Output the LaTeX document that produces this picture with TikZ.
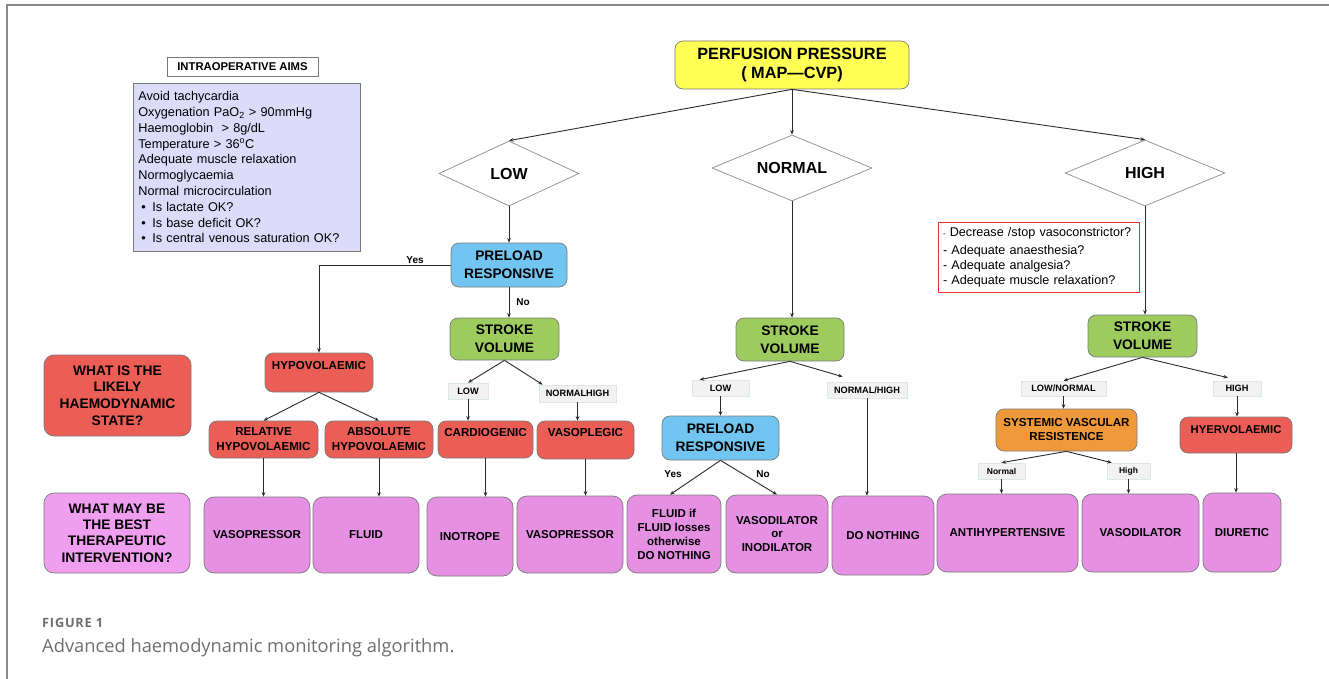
\documentclass[tikz,border=0pt]{standalone}
\usepackage{fontspec}
\setmainfont{Liberation Sans}
\newfontfamily\capfont{Open Sans}
\usetikzlibrary{shapes.geometric,arrows.meta,calc}
\newcommand{\myfs}[2]{\fontsize{#1}{#2}\selectfont}
\definecolor{cyel}{HTML}{FFFF55}
\definecolor{cblue}{HTML}{72C5F0}
\definecolor{cgreen}{HTML}{9DCB5E}
\definecolor{cred}{HTML}{EB5E56}
\definecolor{corange}{HTML}{F0993A}
\definecolor{cpink}{HTML}{E590E3}
\definecolor{cpinkb}{HTML}{F09EF0}
\definecolor{clav}{HTML}{DCDCFA}
\definecolor{clab}{HTML}{F2F2F2}
\definecolor{clabb}{HTML}{DCE8E8}
\definecolor{cborder}{HTML}{7A7A7A}
\definecolor{cline}{HTML}{2B2B2B}
\definecolor{cframe}{HTML}{8A8A8A}
\definecolor{ccap}{HTML}{6E6E6E}
\definecolor{credline}{HTML}{E8342C}
\begin{document}
\begin{tikzpicture}[x=1pt,y=-1pt,
  box/.style={draw=cborder, line width=0.7pt, rounded corners=8pt, align=center, inner sep=2pt, font=\bfseries\myfs{11.5}{14}},
  sz/.style 2 args={minimum width=#1, minimum height=#2},
  lab/.style={draw=clabb, fill=clab, line width=0.6pt, inner sep=0pt, font=\bfseries\myfs{9.2}{11}},
  dia/.style={diamond, draw=gray!90, line width=0.7pt, aspect=2, inner sep=0pt, font=\bfseries\myfs{16}{18}},
  conn/.style={draw=cline, line width=0.9pt, -{Stealth[length=4.5pt,width=3.6pt]}},
  yn/.style={font=\bfseries\myfs{10}{12}, inner sep=0pt},
  raise/.style={text height=9pt, text depth=#1},
  big/.style={font=\bfseries\myfs{13.8}{18}},
  mid/.style={font=\bfseries\myfs{11.6}{15}},
  bot/.style={box, fill=cpink, rounded corners=10pt, font=\bfseries\myfs{11.5}{14}}
]
\useasboundingbox (0,0) rectangle (1329,679);
\draw[cframe, line width=1.5pt] (7,679) -- (7,5) -- (1329,5);

% top
\node[box, fill=cyel, sz={234}{48}, font=\bfseries\myfs{16.3}{19}] (pp) at (792,65) {PERFUSION PRESSURE\\( MAP—CVP)};
\node[dia, sz={140}{65}] (dl) at (509,173.5) {LOW};
\node[dia, sz={160}{66}] (dn) at (792,168) {NORMAL};
\node[dia, sz={160}{66}] (dh) at (1145,173) {HIGH};
\draw[conn] (pp.south) -- (dl.north);
\draw[conn] (pp.south) -- (dn.north);
\draw[conn] (pp.south) -- (dh.north);

% intraoperative aims
\node[draw=cborder, fill=white, line width=0.7pt, sz={151}{19}, inner sep=0pt, font=\bfseries\myfs{11.3}{13}] (aimst) at (242.5,66.5) {INTRAOPERATIVE AIMS};
\node[draw=cborder, fill=clav, line width=0.7pt, anchor=north west, sz={227}{168}, text width=217pt, inner xsep=5pt, align=left, font=\myfs{12.7}{15.8}] (aims) at (133,83) {Avoid tachycardia\\
Oxygenation PaO\textsubscript{2} > 90mmHg\\
Haemoglobin \ > 8g/dL\\
Temperature > 36\textsuperscript{o}C\\
Adequate muscle relaxation\\
Normoglycaemia\\
Normal microcirculation\\
\hspace*{3pt}•\hspace{6.5pt}Is lactate OK?\\
\hspace*{3pt}•\hspace{6.5pt}Is base deficit OK?\\
\hspace*{3pt}•\hspace{6.5pt}Is central venous saturation OK?};

% left questions
\node[box, fill=cred, rounded corners=10pt, sz={147}{81}, font=\bfseries\myfs{13.8}{16.7}] (q1) at (117.5,395.5) {WHAT IS THE\\LIKELY\\HAEMODYNAMIC\\STATE?};
\node[box, fill=cpinkb, rounded corners=10pt, sz={146}{80}, font=\bfseries\myfs{13.8}{16.3}] (q2) at (117,533) {WHAT MAY BE\\THE BEST\\THERAPEUTIC\\INTERVENTION?};

% LOW branch
\node[box, fill=cblue, sz={116}{44}, big] (pr1) at (509,265) {PRELOAD\\RESPONSIVE};
\node[box, fill=cgreen, sz={109}{42}, big] (sv1) at (504.5,339) {STROKE\\VOLUME};
\node[box, fill=cred, sz={108}{39}, mid, raise=15.4pt] (hypo) at (319,372.5) {HYPOVOLAEMIC};
\node[box, fill=cred, sz={109}{37}, mid] (rel) at (263.5,439.5) {RELATIVE\\HYPOVOLAEMIC};
\node[box, fill=cred, sz={108}{37}, mid] (abs) at (379,439.5) {ABSOLUTE\\HYPOVOLAEMIC};
\node[lab, sz={40}{16}] (l1) at (468,391) {LOW};
\node[lab, sz={77}{17}] (nh1) at (577.5,393.5) {NORMALHIGH};
\node[box, fill=cred, sz={95}{37}, mid, raise=15.4pt] (card) at (485.5,439.5) {CARDIOGENIC};
\node[box, fill=cred, sz={97}{38}, mid, raise=16.4pt] (vple) at (585.5,440) {VASOPLEGIC};

\draw[conn] (dl.south) -- (pr1.north);
\draw[conn] (pr1.west) -| (hypo.north);
\node[yn] (y1) at (415,260) {Yes};
\draw[conn] (pr1.south) -- (pr1.south |- sv1.north);
\node[yn] (n1) at (523,302) {No};
\draw[conn] (sv1.south) -- (l1.north);
\draw[conn] (sv1.south) -- ($(nh1.north west)+(4,0)$);
\draw[conn] (l1.south) -- (l1.south |- card.north);
\draw[conn] (nh1.south) -- (nh1.south |- vple.north);
\draw[conn] (hypo.south) -- (rel.north);
\draw[conn] (hypo.south) -- (abs.north);

% bottom row
\node[bot, sz={106}{76}] (b1) at (257,535) {VASOPRESSOR};
\node[bot, sz={106}{76}] (b2) at (366,535) {FLUID};
\node[bot, sz={86}{79}] (b3) at (470,536.5) {INOTROPE};
\node[bot, sz={106}{77}] (b4) at (570,534.5) {VASOPRESSOR};
\node[bot, sz={94}{78}, font=\bfseries\myfs{11.5}{14}] (b5) at (674,534) {FLUID if\\FLUID losses\\otherwise\\DO NOTHING};
\node[bot, sz={102}{78}, font=\bfseries\myfs{11.5}{13.8}] (b6) at (777,534) {VASODILATOR\\or\\INODILATOR};
\node[bot, sz={102}{79}] (b7) at (883,535.5) {DO NOTHING};
\node[bot, sz={141}{78}] (b8) at (1007.5,533) {ANTIHYPERTENSIVE};
\node[bot, sz={117}{78}] (b9) at (1140.5,533) {VASODILATOR};
\node[bot, sz={78}{79}] (b10) at (1242,532.5) {DIURETIC};

\draw[conn] (rel.south) -- (rel.south |- b1.north);
\draw[conn] (abs.south) -- (abs.south |- b2.north);
\draw[conn] (card.south) -- (card.south |- b3.north);
\draw[conn] (vple.south) -- (vple.south |- b4.north);

% NORMAL branch
\node[box, fill=cgreen, sz={108}{43}, big] (sv2) at (790,339.5) {STROKE\\VOLUME};
\node[lab, sz={57}{16}] (low2) at (720.5,388) {LOW};
\node[lab, sz={80}{16}] (nh2) at (867,390) {NORMAL/HIGH};
\node[box, fill=cblue, sz={117}{44}, big] (pr2) at (720.5,438) {PRELOAD\\RESPONSIVE};
\draw[conn] (dn.south) -- (dn.south |- sv2.north);
\draw[conn] (sv2.south) -- ($(low2.north west)+(8,0)$);
\draw[conn] (sv2.south) -- ($(nh2.north west)+(16,-5)$);
\draw[conn] (low2.south) -- (pr2.north);
\draw[conn] (pr2.south) -- ($(b5.north)+(-4,0)$);
\draw[conn] (pr2.south) -- (b6.north);
\node[yn] (y2) at (673,474) {Yes};
\node[yn] (n2) at (763,474) {No};
\draw[conn] (nh2.south) -- (nh2.south |- b7.north);

% HIGH branch
\node[draw=credline, fill=white, line width=1pt, sz={201}{70}, text width=191pt, inner xsep=5pt, inner ysep=0pt, align=left, font=\myfs{12.6}{15}] (rb) at (1038.5,257) {{\myfs{8}{15}-} Decrease /stop vasoconstrictor?\\[3pt]
- Adequate anaesthesia?\\
- Adequate analgesia?\\
- Adequate muscle relaxation?};
\node[box, fill=cgreen, sz={109}{42}, big] (sv3) at (1142.5,336) {STROKE\\VOLUME};
\node[lab, sz={85}{15}] (lnl) at (1063.5,388.5) {LOW/NORMAL};
\node[lab, sz={48}{15}] (lh) at (1237,388.5) {HIGH};
\node[box, fill=corange, sz={141}{42}, font=\bfseries\myfs{11.6}{14}] (svr) at (1066.5,430) {SYSTEMIC VASCULAR\\RESISTENCE};
\node[box, fill=cred, sz={112}{36}, font=\bfseries\myfs{11.3}{14}, raise=12.4pt] (hyer) at (1236,435) {HYERVOLAEMIC};
\node[lab, sz={47}{16}, font=\bfseries\myfs{8.5}{10}] (nl) at (1001.5,471) {Normal};
\node[lab, sz={43}{16}, font=\bfseries\myfs{8.5}{10}] (hl) at (1128.5,471) {High};

\draw[conn] (dh.south) -- (dh.south |- sv3.north);
\draw[conn] (sv3.south) -- (lnl.north);
\draw[conn] (sv3.south) -- ($(lh.north)+(-9,-3)$);
\draw[conn] (lnl.south) -- (lnl.south |- svr.north);
\draw[conn] (lh.south) -- (lh.south |- hyer.north);
\draw[conn] (svr.south) -- (nl.north);
\draw[conn] (svr.south) -- ($(hl.north west)+(5,0)$);
\draw[conn] (nl.south) -- (nl.south |- b8.north);
\draw[conn] (hl.south) -- (hl.south |- b9.north);
\draw[conn] (hyer.south) -- (hyer.south |- b10.north);

% caption
\node[anchor=base west, text=ccap, inner sep=0pt, font=\capfont\bfseries\myfs{12.8}{14}\addfontfeature{LetterSpace=6}] (fig) at (42,627) {FIGURE 1};
\node[anchor=base west, text=ccap, inner sep=0pt, font=\capfont\myfs{18.3}{20}] (cap) at (42,652) {Advanced haemodynamic monitoring algorithm.};
\end{tikzpicture}
\end{document}
